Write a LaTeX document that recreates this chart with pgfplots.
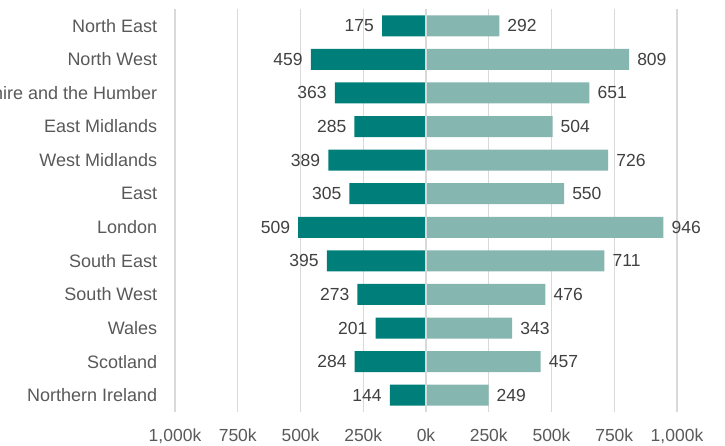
\documentclass[border=0pt]{standalone}
\usepackage{pgfplots}
\pgfplotsset{compat=1.18}
\usepackage{pgfplotstable}
\usepackage{fontspec}
\setmainfont{Liberation Sans}
\definecolor{darkteal}{HTML}{007F7A}
\definecolor{lightteal}{HTML}{86B6B0}
\definecolor{txt}{HTML}{595959}
\definecolor{lbl}{HTML}{404040}
\definecolor{gridc}{HTML}{D9D9D9}
\pgfplotstableread{
y left right labL labR
1 -175 292 175 292
2 -459 809 459 809
3 -363 651 363 651
4 -285 504 285 504
5 -389 726 389 726
6 -305 550 305 550
7 -509 946 509 946
8 -395 711 395 711
9 -273 476 273 476
10 -201 343 201 343
11 -284 457 284 457
12 -144 249 144 249
}\datatab
\begin{document}
\begin{tikzpicture}
\begin{scope}
\clip (-175pt,-34pt) rectangle (550pt,412pt);
\begin{axis}[
  at={(0pt,0pt)}, anchor=south west,
  scale only axis, width=502pt, height=403pt,
  xmin=-1000, xmax=1000, ymin=0.5, ymax=12.5,
  y dir=reverse,
  axis line style={draw=none},
  tick style={draw=none},
  xmajorgrids, major grid style={gridc, line width=1.2pt},
  xtick={-1000,-750,-500,-250,0,250,500,750,1000},
  xticklabels={{1,000k},750k,500k,250k,0k,250k,500k,750k,{1,000k}},
  ytick={1,...,12},
  yticklabels={North East,North West,Yorkshire and the Humber,East Midlands,West Midlands,East ,London,South East,South West,Wales,Scotland,Northern Ireland},
  y tick label style={font=\fontsize{18}{21}\selectfont, text=txt, xshift=-10pt},
  x tick label style={font=\fontsize{17.5}{20}\selectfont, text=txt, yshift=-13pt},
  xbar, bar shift=0pt, bar width=21pt,
  nodes near coords,
  point meta=explicit symbolic,
  every node near coord/.append style={font=\fontsize{17.5}{20}\selectfont, text=lbl},
]
\addplot[draw=none, fill=darkteal, nodes near coords style={anchor=east, inner xsep=8pt, inner ysep=2pt}] table[x=left, y=y, meta=labL] {\datatab};
\addplot[draw=none, fill=lightteal, nodes near coords style={anchor=west, inner xsep=8pt, inner ysep=2pt}] table[x=right, y=y, meta=labR] {\datatab};
\draw[gridc, line width=1.2pt] (axis cs:0,0.5) -- (axis cs:0,12.5);
\end{axis}
\end{scope}
\pgfresetboundingbox
\useasboundingbox (-175pt,-34pt) rectangle (550pt,412pt);
\end{tikzpicture}
\end{document}
